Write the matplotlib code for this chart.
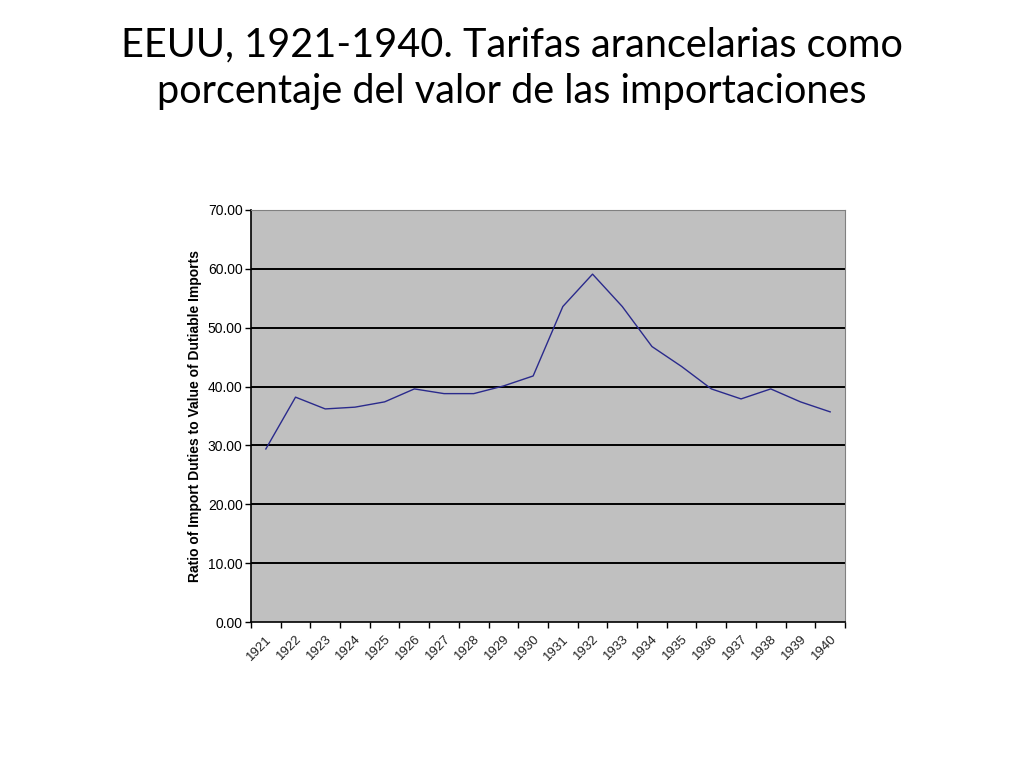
import matplotlib
matplotlib.use("Agg")
import matplotlib.pyplot as plt
from matplotlib.ticker import FixedLocator, FormatStrFormatter

years = ["1921", "1922", "1923", "1924", "1925", "1926", "1927", "1928", "1929", "1930",
         "1931", "1932", "1933", "1934", "1935", "1936", "1937", "1938", "1939", "1940"]
ratio = [29.4, 38.2, 36.2, 36.5, 37.4, 39.6, 38.8, 38.8, 40.1, 41.8,
         53.6, 59.1, 53.6, 46.8, 43.4, 39.6, 37.9, 39.6, 37.4, 35.7]
yticks = [0, 10, 20, 30, 40, 50, 60, 70]

title = "EEUU, 1921-1940. Tarifas arancelarias como\nporcentaje del valor de las importaciones"
ylabel = "Ratio of Import Duties to Value of Dutiable Imports"

fig = plt.figure(figsize=(10.24, 7.68), dpi=100)
fig.text(0.5, 0.911, title, ha="center", va="center", fontsize=28.5,
         family=["Lato", "DejaVu Sans"], linespacing=1.3, color="black")

ax = fig.add_axes([0.2451, 0.1901, 0.5801, 0.5365])
ax.set_facecolor("#c0c0c0")
x = list(range(len(years)))
ax.set_xlim(-0.5, len(years) - 0.5)
ax.set_ylim(0, 70)
for v in yticks[1:-1]:
    ax.axhline(v, color="black", lw=1.4, zorder=1)
ax.plot(x, ratio, color="#2a2a8c", lw=1.0, zorder=3)

ax.yaxis.set_major_locator(FixedLocator(yticks))
ax.yaxis.set_major_formatter(FormatStrFormatter("%.2f"))
ax.set_xticks([i - 0.5 for i in range(len(years) + 1)])
ax.set_xticklabels([])
ax.set_xticks(x, minor=True)
ax.set_xticklabels(years, minor=True, rotation=45, ha="right", rotation_mode="anchor",
                   fontsize=9.5, family="Liberation Sans", color="#222222")
ax.tick_params(axis="x", which="minor", length=0, pad=8)
ax.tick_params(axis="x", which="major", direction="out", length=4, width=1, color="black")
ax.tick_params(axis="y", direction="out", length=4, width=1, labelsize=10, pad=2)
for lab in ax.get_yticklabels():
    lab.set_family("Liberation Sans")
ax.set_ylabel(ylabel, fontsize=10, fontweight="bold", family="Liberation Sans", labelpad=4)

ax.spines["left"].set_color("black")
ax.spines["left"].set_linewidth(1.2)
ax.spines["bottom"].set_color("black")
ax.spines["bottom"].set_linewidth(1.2)
ax.spines["top"].set_color("#808080")
ax.spines["right"].set_color("#808080")

fig.savefig("out.png", dpi=100, facecolor="white")
